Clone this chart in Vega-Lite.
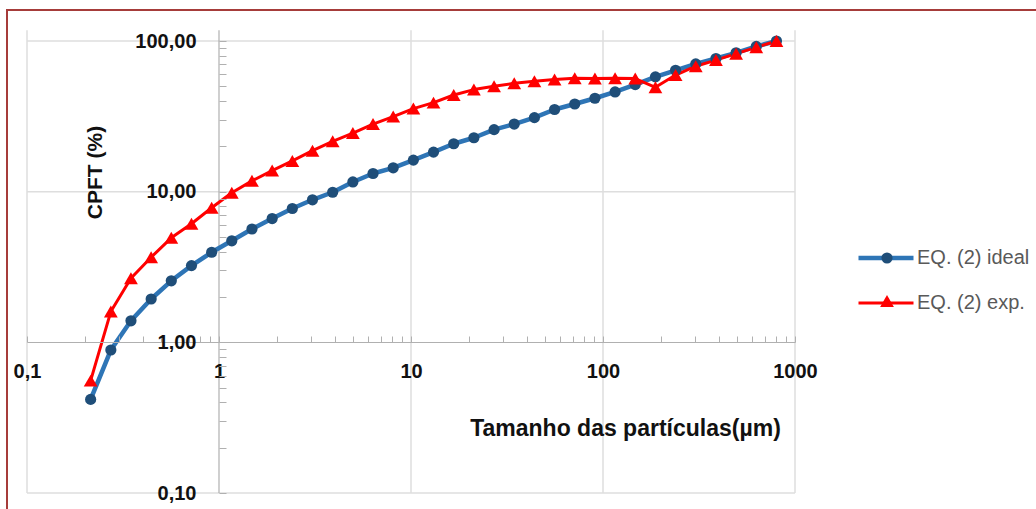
{
  "$schema": "https://vega.github.io/schema/vega-lite/v6.json",
  "width": 1033,
  "height": 503,
  "autosize": {"type": "none"},
  "padding": {"left": 7, "top": 10, "right": -4, "bottom": -4},
  "background": "white",
  "config": {
    "view": {"stroke": "#a63c3a", "strokeWidth": 2},
    "font": "Liberation Sans"
  },
  "data": {
    "values": [
      {"d": 0.2145, "cpft": 0.418, "serie": "EQ. (2) ideal"},
      {"d": 0.2733, "cpft": 0.889, "serie": "EQ. (2) ideal"},
      {"d": 0.3479, "cpft": 1.39, "serie": "EQ. (2) ideal"},
      {"d": 0.4432, "cpft": 1.94, "serie": "EQ. (2) ideal"},
      {"d": 0.5644, "cpft": 2.56, "serie": "EQ. (2) ideal"},
      {"d": 0.7189, "cpft": 3.23, "serie": "EQ. (2) ideal"},
      {"d": 0.9158, "cpft": 3.96, "serie": "EQ. (2) ideal"},
      {"d": 1.166, "cpft": 4.72, "serie": "EQ. (2) ideal"},
      {"d": 1.485, "cpft": 5.65, "serie": "EQ. (2) ideal"},
      {"d": 1.892, "cpft": 6.63, "serie": "EQ. (2) ideal"},
      {"d": 2.41, "cpft": 7.73, "serie": "EQ. (2) ideal"},
      {"d": 3.069, "cpft": 8.83, "serie": "EQ. (2) ideal"},
      {"d": 3.909, "cpft": 9.91, "serie": "EQ. (2) ideal"},
      {"d": 4.98, "cpft": 11.6, "serie": "EQ. (2) ideal"},
      {"d": 6.342, "cpft": 13.2, "serie": "EQ. (2) ideal"},
      {"d": 8.078, "cpft": 14.4, "serie": "EQ. (2) ideal"},
      {"d": 10.29, "cpft": 16.2, "serie": "EQ. (2) ideal"},
      {"d": 13.1, "cpft": 18.3, "serie": "EQ. (2) ideal"},
      {"d": 16.69, "cpft": 20.8, "serie": "EQ. (2) ideal"},
      {"d": 21.26, "cpft": 22.8, "serie": "EQ. (2) ideal"},
      {"d": 27.08, "cpft": 25.8, "serie": "EQ. (2) ideal"},
      {"d": 34.49, "cpft": 28.1, "serie": "EQ. (2) ideal"},
      {"d": 43.93, "cpft": 31.0, "serie": "EQ. (2) ideal"},
      {"d": 55.95, "cpft": 35.1, "serie": "EQ. (2) ideal"},
      {"d": 71.26, "cpft": 38.2, "serie": "EQ. (2) ideal"},
      {"d": 90.77, "cpft": 41.7, "serie": "EQ. (2) ideal"},
      {"d": 115.6, "cpft": 45.9, "serie": "EQ. (2) ideal"},
      {"d": 147.2, "cpft": 51.4, "serie": "EQ. (2) ideal"},
      {"d": 187.5, "cpft": 57.8, "serie": "EQ. (2) ideal"},
      {"d": 238.8, "cpft": 63.9, "serie": "EQ. (2) ideal"},
      {"d": 304.2, "cpft": 70.5, "serie": "EQ. (2) ideal"},
      {"d": 387.5, "cpft": 76.5, "serie": "EQ. (2) ideal"},
      {"d": 493.5, "cpft": 83.5, "serie": "EQ. (2) ideal"},
      {"d": 628.5, "cpft": 92.0, "serie": "EQ. (2) ideal"},
      {"d": 800.6, "cpft": 100.0, "serie": "EQ. (2) ideal"},
      {"d": 0.2145, "cpft": 0.557, "serie": "EQ. (2) exp."},
      {"d": 0.2733, "cpft": 1.6, "serie": "EQ. (2) exp."},
      {"d": 0.3479, "cpft": 2.66, "serie": "EQ. (2) exp."},
      {"d": 0.4432, "cpft": 3.67, "serie": "EQ. (2) exp."},
      {"d": 0.5644, "cpft": 4.94, "serie": "EQ. (2) exp."},
      {"d": 0.7189, "cpft": 6.12, "serie": "EQ. (2) exp."},
      {"d": 0.9158, "cpft": 7.82, "serie": "EQ. (2) exp."},
      {"d": 1.166, "cpft": 9.84, "serie": "EQ. (2) exp."},
      {"d": 1.485, "cpft": 11.8, "serie": "EQ. (2) exp."},
      {"d": 1.892, "cpft": 13.8, "serie": "EQ. (2) exp."},
      {"d": 2.41, "cpft": 16.0, "serie": "EQ. (2) exp."},
      {"d": 3.069, "cpft": 18.7, "serie": "EQ. (2) exp."},
      {"d": 3.909, "cpft": 21.6, "serie": "EQ. (2) exp."},
      {"d": 4.98, "cpft": 24.5, "serie": "EQ. (2) exp."},
      {"d": 6.342, "cpft": 28.1, "serie": "EQ. (2) exp."},
      {"d": 8.078, "cpft": 31.5, "serie": "EQ. (2) exp."},
      {"d": 10.29, "cpft": 35.6, "serie": "EQ. (2) exp."},
      {"d": 13.1, "cpft": 39.0, "serie": "EQ. (2) exp."},
      {"d": 16.69, "cpft": 43.8, "serie": "EQ. (2) exp."},
      {"d": 21.26, "cpft": 47.6, "serie": "EQ. (2) exp."},
      {"d": 27.08, "cpft": 50.1, "serie": "EQ. (2) exp."},
      {"d": 34.49, "cpft": 52.4, "serie": "EQ. (2) exp."},
      {"d": 43.93, "cpft": 54.0, "serie": "EQ. (2) exp."},
      {"d": 55.95, "cpft": 55.5, "serie": "EQ. (2) exp."},
      {"d": 71.26, "cpft": 56.6, "serie": "EQ. (2) exp."},
      {"d": 90.77, "cpft": 56.3, "serie": "EQ. (2) exp."},
      {"d": 115.6, "cpft": 56.6, "serie": "EQ. (2) exp."},
      {"d": 147.2, "cpft": 56.3, "serie": "EQ. (2) exp."},
      {"d": 187.5, "cpft": 49.3, "serie": "EQ. (2) exp."},
      {"d": 238.8, "cpft": 59.4, "serie": "EQ. (2) exp."},
      {"d": 304.2, "cpft": 68.0, "serie": "EQ. (2) exp."},
      {"d": 387.5, "cpft": 74.7, "serie": "EQ. (2) exp."},
      {"d": 493.5, "cpft": 82.4, "serie": "EQ. (2) exp."},
      {"d": 628.5, "cpft": 90.8, "serie": "EQ. (2) exp."},
      {"d": 800.6, "cpft": 100.0, "serie": "EQ. (2) exp."}
    ]
  },
  "layer": [
    {
      "data": {"values": [{"d": 0.1}, {"d": 10}, {"d": 100}, {"d": 1000}]},
      "mark": {"type": "rule", "color": "#dedede", "strokeWidth": 1.5},
      "encoding": {
        "x": {
          "field": "d",
          "type": "quantitative",
          "scale": {"type": "log", "domain": [0.1, 1000], "range": [20, 788]},
          "axis": {
            "orient": "bottom",
            "offset": -171,
            "zindex": 1,
            "values": [0.1, 0.2, 0.3, 0.4, 0.5, 0.6, 0.7, 0.8, 0.9, 1, 2, 3, 4, 5, 6, 7, 8, 9, 10, 20, 30, 40, 50, 60, 70, 80, 90, 100, 200, 300, 400, 500, 600, 700, 800, 900, 1000],
            "labelExpr": "datum.value == 0.1 ? '0,1' : datum.value == 1 ? '1' : datum.value == 10 ? '10' : datum.value == 100 ? '100' : datum.value == 1000 ? '1000' : ''",
            "grid": false,
            "domain": true,
            "domainColor": "#b0b0b0",
            "domainWidth": 1.2,
            "ticks": true,
            "tickSize": -6,
            "tickColor": "#b0b0b0",
            "tickWidth": 1,
            "labelPadding": 25,
            "labelFont": "Liberation Sans",
            "labelFontSize": 20,
            "labelFontWeight": "bold",
            "labelColor": "#111111",
            "labelOverlap": false,
            "labelBound": false,
            "labelFlush": false,
            "title": "Tamanho das partículas(µm)",
            "titleFont": "Liberation Sans",
            "titleFontSize": 23,
            "titleFontWeight": "bold",
            "titleColor": "#111111",
            "titleX": 618,
            "titleY": 86,
            "titleAlign": "center",
            "titleBaseline": "middle"
          }
        },
        "y": {
          "datum": 0.1,
          "type": "quantitative",
          "scale": {"type": "log", "domain": [0.1, 100], "range": [483, 31]},
          "axis": {
            "orient": "left",
            "offset": -212,
            "zindex": 1,
            "values": [0.1, 0.2, 0.3, 0.4, 0.5, 0.6, 0.7, 0.8, 0.9, 1, 2, 3, 4, 5, 6, 7, 8, 9, 10, 20, 30, 40, 50, 60, 70, 80, 90, 100],
            "labelExpr": "datum.value == 100 ? '100,00' : datum.value == 10 ? '10,00' : datum.value == 1 ? '1,00' : datum.value == 0.1 ? '0,10' : ''",
            "grid": false,
            "domain": false,
            "ticks": true,
            "tickSize": -7,
            "tickColor": "#b0b0b0",
            "tickWidth": 1,
            "labelPadding": 30,
            "labelFont": "Liberation Sans",
            "labelFontSize": 20,
            "labelFontWeight": "bold",
            "labelColor": "#111111",
            "labelOverlap": false,
            "labelBound": false,
            "labelFlush": false,
            "labelBaseline": "middle",
            "title": "CPFT (%)",
            "titleFont": "Liberation Sans",
            "titleFontSize": 21,
            "titleFontWeight": "bold",
            "titleColor": "#111111",
            "titleX": -124,
            "titleY": 162,
            "titleAngle": 270,
            "titleAlign": "center",
            "titleBaseline": "middle"
          }
        },
        "y2": {"datum": 118}
      }
    },
    {
      "data": {"values": [{"cpft": 0.1}, {"cpft": 10}, {"cpft": 100}]},
      "mark": {"type": "rule", "color": "#dedede", "strokeWidth": 1.5},
      "encoding": {
        "y": {"field": "cpft", "type": "quantitative"},
        "x": {"datum": 0.1, "type": "quantitative"},
        "x2": {"datum": 1000}
      }
    },
    {
      "data": {"values": [{"d": 1}]},
      "mark": {"type": "rule", "color": "#b0b0b0", "strokeWidth": 1.2},
      "encoding": {
        "x": {"field": "d", "type": "quantitative"},
        "y": {"datum": 0.1, "type": "quantitative"},
        "y2": {"datum": 118}
      }
    },
    {
      "mark": {"type": "line", "strokeCap": "round", "strokeJoin": "round"},
      "encoding": {
        "x": {"field": "d", "type": "quantitative"},
        "y": {"field": "cpft", "type": "quantitative"},
        "stroke": {
          "field": "serie",
          "type": "nominal",
          "scale": {"domain": ["EQ. (2) ideal", "EQ. (2) exp."], "range": ["#2e75b6", "#ff0000"]},
          "legend": {
            "orient": "none",
            "legendX": 849,
            "legendY": 218,
            "title": null,
            "padding": 0,
            "symbolType": "stroke",
            "symbolSize": 3025,
            "symbolOpacity": 1,
            "labelFont": "Liberation Sans",
            "labelFontSize": 20,
            "labelColor": "#595959",
            "labelOffset": 1,
            "labelLimit": 400,
            "rowPadding": 6
          }
        },
        "strokeWidth": {
          "field": "serie",
          "type": "nominal",
          "scale": {"type": "ordinal", "domain": ["EQ. (2) ideal", "EQ. (2) exp."], "range": [4.5, 3]}
        }
      }
    },
    {
      "mark": {"type": "point", "filled": true, "opacity": 1, "strokeWidth": 0},
      "encoding": {
        "x": {"field": "d", "type": "quantitative"},
        "y": {"field": "cpft", "type": "quantitative"},
        "fill": {
          "field": "serie",
          "type": "nominal",
          "sort": "descending",
          "scale": {"range": ["#1f4e79", "#ff0000"]},
          "legend": {
            "orient": "none",
            "legendX": 870,
            "legendY": 238,
            "title": null,
            "padding": 0,
            "symbolStrokeWidth": 0,
            "symbolOpacity": 1,
            "labelExpr": "''",
            "labelFontSize": 20,
            "labelLimit": 400,
            "rowPadding": 23
          }
        },
        "shape": {
          "field": "serie",
          "type": "nominal",
          "sort": "descending",
          "scale": {"range": ["circle", "triangle-up"]}
        },
        "size": {
          "field": "serie",
          "type": "nominal",
          "sort": "descending",
          "scale": {"type": "ordinal", "range": [125, 190]}
        }
      }
    }
  ]
}
